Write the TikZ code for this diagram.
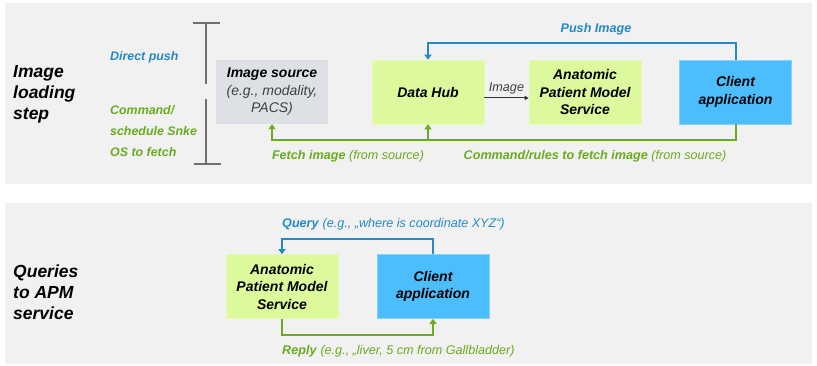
\documentclass[tikz,border=0pt]{standalone}
\usepackage{fontspec}
\setmainfont{Liberation Sans}
\usetikzlibrary{arrows.meta}
\definecolor{panel}{HTML}{F1F1F1}
\definecolor{srcgray}{HTML}{DDE0E4}
\definecolor{lime}{HTML}{DCFA9C}
\definecolor{sky}{HTML}{4DBEFD}
\definecolor{tgreen}{HTML}{6AAB1F}
\definecolor{tblue}{HTML}{2389C9}
\definecolor{brk}{HTML}{707070}
\tikzset{
  box/.style={rectangle, minimum width=112pt, minimum height=64pt, inner sep=0pt, align=center,
    font=\fontsize{14}{17.5}\selectfont\bfseries\itshape},
  srcbox/.style={box, fill=srcgray},
  limebox/.style={box, fill=lime, draw=lime!70!white, line width=0.6pt},
  skybox/.style={box, fill=sky, draw=sky!70!white, line width=0.6pt},
  bigtitle/.style={anchor=west, align=left, inner sep=0pt, font=\fontsize{17.5}{21}\selectfont\bfseries\itshape},
  sidelabel/.style={anchor=west, align=left, inner sep=0pt, font=\fontsize{12.4}{21}\selectfont\bfseries\itshape},
  lbl/.style={inner sep=0pt, font=\fontsize{12.6}{14}\selectfont},
  bluearrow/.style={draw=tblue, line width=2pt, -{Triangle[length=5pt,width=7pt]}},
  greenarrow/.style={draw=tgreen, line width=2pt, -{Triangle[length=5pt,width=7pt]}},
}
\begin{document}
\begin{tikzpicture}[x=1pt,y=-1pt]
\useasboundingbox (0,0) rectangle (817,366);
% panels
\fill[panel] (5,3) rectangle (812,184);
\fill[panel] (5,203) rectangle (812,364);

% ---------- top panel ----------
\node[bigtitle] (t1) at (13,94) {Image\\loading\\step};
\node[sidelabel, text=tblue] (dp) at (110,57) {Direct push};
\node[sidelabel, text=tgreen] (cs) at (110,131) {Command/\\schedule Snke\\OS to fetch};
% bracket
\draw[brk, line width=1.5pt] (193,23) -- (220,23);
\draw[brk, line width=1.5pt] (206,23) -- (206,84);
\draw[brk, line width=1.5pt] (206,99) -- (206,164);
\draw[brk, line width=1.5pt] (194,164) -- (221,164);

\node[srcbox] (src) at (272,92) {Image source\\{\mdseries\color{black!75}(e.g., modality,}\\{\mdseries\color{black!75}PACS)}};
\node[limebox] (dh) at (428,92) {Data Hub};
\node[limebox] (apm1) at (585,92) {Anatomic\\Patient Model\\Service};
\node[skybox] (cl1) at (735.5,92) {Client\\application};

\draw[draw=black!80, line width=1pt, -{Triangle[length=4pt,width=4pt]}] (dh.east |- 0,98) -- (apm1.west |- 0,98)
  node[midway, above=3pt, lbl, font=\fontsize{12.6}{14}\selectfont\itshape, text=black!75] (imglbl) {Image};

% push image
\coordinate (pt) at (736,43);
\draw[bluearrow] (cl1.north) -- (cl1.north |- pt) -| (dh.north);
\node[lbl, text=tblue, font=\fontsize{12.6}{14}\selectfont\bfseries\itshape] (pushlbl) at (596,29) {Push Image};

% fetch commands
\coordinate (gb) at (736,140);
\draw[greenarrow] (cl1.south) -- (cl1.south |- gb) -| (src.south);
\draw[greenarrow] (dh.south |- gb) -- (dh.south);
\node[lbl, text=tgreen] (fetchlbl) at (348,156) {\textbf{\itshape Fetch image} \textit{(from source)}};
\node[lbl, text=tgreen] (cmdlbl) at (595,156) {\textbf{\itshape Command/rules to fetch image} \textit{(from source)}};

% ---------- bottom panel ----------
\node[bigtitle] (t2) at (13,292) {Queries\\to APM\\service};
\node[limebox] (apm2) at (282,286.5) {Anatomic\\Patient Model\\Service};
\node[skybox] (cl2) at (433,286.5) {Client\\application};

\coordinate (qt) at (433,239);
\draw[bluearrow] (cl2.north) -- (cl2.north |- qt) -| (apm2.north);
\node[lbl, text=tblue, anchor=west] (qlbl) at (282,224) {\textbf{\itshape Query} \textit{(e.g., „where is coordinate XYZ“)}};

\coordinate (rb) at (282,335);
\draw[greenarrow] (apm2.south) -- (apm2.south |- rb) -| (cl2.south);
\node[lbl, text=tgreen, anchor=west] (rlbl) at (282,351) {\textbf{\itshape Reply} \textit{(e.g., „liver, 5 cm from Gallbladder)}};
\end{tikzpicture}
\end{document}
